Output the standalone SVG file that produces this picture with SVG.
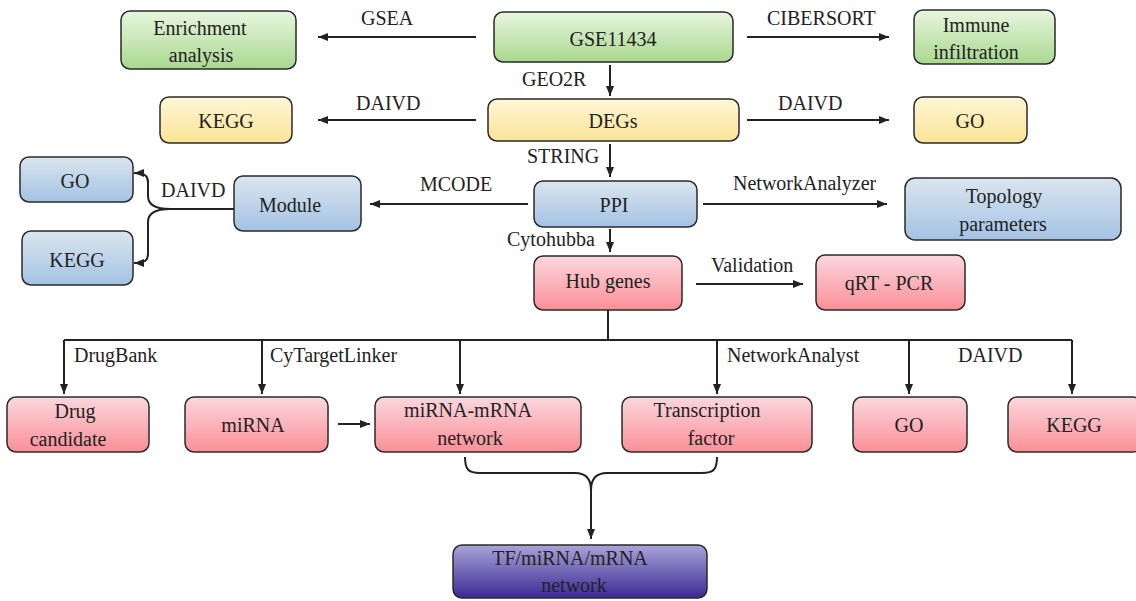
<svg xmlns="http://www.w3.org/2000/svg" width="1136" height="601" viewBox="0 0 1136 601">
<defs>
<linearGradient id="gGreen" x1="0" y1="0" x2="0" y2="1"><stop offset="0" stop-color="#e8f6df"/><stop offset="1" stop-color="#a9d88f"/></linearGradient>
<linearGradient id="gYellow" x1="0" y1="0" x2="0" y2="1"><stop offset="0" stop-color="#fff7d6"/><stop offset="1" stop-color="#fbe497"/></linearGradient>
<linearGradient id="gBlue" x1="0" y1="0" x2="0" y2="1"><stop offset="0" stop-color="#dbe5ee"/><stop offset="1" stop-color="#a3c3e4"/></linearGradient>
<linearGradient id="gPink" x1="0" y1="0" x2="0" y2="1"><stop offset="0" stop-color="#fbd7de"/><stop offset="1" stop-color="#fb8f97"/></linearGradient>
<linearGradient id="gPurple" x1="0" y1="0" x2="0" y2="1"><stop offset="0" stop-color="#aaa4d8"/><stop offset="1" stop-color="#3a2993"/></linearGradient>
<marker id="ah" viewBox="0 0 10 10" refX="10" refY="5" markerWidth="5" markerHeight="5" orient="auto" markerUnits="strokeWidth">
<path d="M0,1 L10,5 L0,9 z" fill="#222"/>
</marker>
</defs>
<style>
.box{stroke:#2a2a2a;stroke-width:1.5}
.t{font-size:20px;fill:#222;text-anchor:middle}
.l{font-size:20px;fill:#222}
.c{fill:none;stroke:#222;stroke-width:2}
.ca{fill:none;stroke:#222;stroke-width:2;marker-end:url(#ah)}
</style>
<rect width="1136" height="601" fill="#fff"/>
<g font-family="Liberation Serif, DejaVu Serif, serif">
<g id="connectors">
<line class="ca" x1="476" y1="37" x2="318" y2="37"/>
<line class="ca" x1="747" y1="37" x2="889" y2="37"/>
<line class="ca" x1="610" y1="65" x2="610" y2="96"/>
<line class="ca" x1="476" y1="120" x2="318" y2="120"/>
<line class="ca" x1="747" y1="120" x2="889" y2="120"/>
<line class="ca" x1="610" y1="144" x2="610" y2="177"/>
<line class="ca" x1="528" y1="204" x2="370" y2="204"/>
<line class="ca" x1="703" y1="204" x2="887" y2="204"/>
<line class="ca" x1="610" y1="229" x2="610" y2="252"/>
<line class="ca" x1="696" y1="284" x2="803" y2="284"/>
<path class="c" d="M234,209 L170,209"/>
<path class="ca" d="M170,209 C155,209 148,205 148,196 L148,182 C148,176 145,173 134,173"/>
<path class="ca" d="M170,209 C155,209 148,213 148,222 L148,254 C148,260 145,263 134,263"/>
<path class="c" d="M608,310 L608,340 M64,340 L1072,340"/>
<line class="ca" x1="64" y1="340" x2="64" y2="394"/>
<line class="ca" x1="262" y1="340" x2="262" y2="394"/>
<line class="ca" x1="460" y1="340" x2="460" y2="394"/>
<line class="ca" x1="717" y1="340" x2="717" y2="394"/>
<line class="ca" x1="909" y1="340" x2="909" y2="394"/>
<line class="ca" x1="1072" y1="340" x2="1072" y2="394"/>
<line class="ca" x1="338" y1="424" x2="370" y2="424"/>
<path class="c" d="M465,457 C465,469 468,473 480,473 L575,473 C586,473 591,479 591,490"/>
<path class="c" d="M717,457 C717,469 714,473 702,473 L607,473 C596,473 591,479 591,490"/>
<line class="ca" x1="591" y1="489" x2="591" y2="539"/>
<text class="l" x="361" y="25">GSEA</text>
<text class="l" x="767" y="25">CIBERSORT</text>
<text class="l" x="522" y="86">GEO2R</text>
<text class="l" x="356" y="110">DAIVD</text>
<text class="l" x="778" y="110">DAIVD</text>
<text class="l" x="527" y="163">STRING</text>
<text class="l" x="420" y="191">MCODE</text>
<text class="l" x="733" y="190">NetworkAnalyzer</text>
<text class="l" x="161" y="197">DAIVD</text>
<text class="l" x="507" y="246">Cytohubba</text>
<text class="l" x="711" y="272">Validation</text>
<text class="l" x="74" y="362">DrugBank</text>
<text class="l" x="270" y="362">CyTargetLinker</text>
<text class="l" x="727" y="362">NetworkAnalyst</text>
<text class="l" x="958" y="362">DAIVD</text>
</g>

<g id="enrichment"><rect class="box" x="121" y="11" width="175" height="58" rx="9" fill="url(#gGreen)"/><text class="t" x="200" y="35">Enrichment</text><text class="t" x="201" y="62">analysis</text></g>
<g id="gse"><rect class="box" x="494" y="12" width="239" height="50" rx="9" fill="url(#gGreen)"/><text class="t" x="613" y="46">GSE11434</text></g>
<g id="immune"><rect class="box" x="914" y="10" width="141" height="54" rx="9" fill="url(#gGreen)"/><text class="t" x="976" y="32">Immune</text><text class="t" x="976" y="59">infiltration</text></g>

<g id="kegg1"><rect class="box" x="160" y="97" width="132" height="46" rx="9" fill="url(#gYellow)"/><text class="t" x="226" y="128">KEGG</text></g>
<g id="degs"><rect class="box" x="488" y="99" width="251" height="42" rx="9" fill="url(#gYellow)"/><text class="t" x="613" y="128">DEGs</text></g>
<g id="go1"><rect class="box" x="914" y="97" width="113" height="46" rx="9" fill="url(#gYellow)"/><text class="t" x="970" y="128">GO</text></g>

<g id="go2"><rect class="box" x="20" y="157" width="113" height="45" rx="9" fill="url(#gBlue)"/><text class="t" x="75" y="188">GO</text></g>
<g id="kegg2"><rect class="box" x="22" y="231" width="111" height="54" rx="9" fill="url(#gBlue)"/><text class="t" x="77" y="267">KEGG</text></g>
<g id="module"><rect class="box" x="234" y="176" width="127" height="55" rx="9" fill="url(#gBlue)"/><text class="t" x="290" y="212">Module</text></g>
<g id="ppi"><rect class="box" x="534" y="181" width="163" height="46" rx="9" fill="url(#gBlue)"/><text class="t" x="614" y="212">PPI</text></g>
<g id="topology"><rect class="box" x="905" y="178" width="216" height="62" rx="10" fill="url(#gBlue)"/><text class="t" x="1004" y="203">Topology</text><text class="t" x="1003" y="231">parameters</text></g>

<g id="hub"><rect class="box" x="534" y="256" width="148" height="54" rx="9" fill="url(#gPink)"/><text class="t" x="608" y="288">Hub genes</text></g>
<g id="qrt"><rect class="box" x="816" y="255" width="149" height="55" rx="9" fill="url(#gPink)"/><text class="t" x="889" y="290">qRT - PCR</text></g>

<g id="drug"><rect class="box" x="7" y="397" width="142" height="55" rx="9" fill="url(#gPink)"/><text class="t" x="75" y="418">Drug</text><text class="t" x="68" y="446">candidate</text></g>
<g id="mirna"><rect class="box" x="185" y="397" width="143" height="55" rx="9" fill="url(#gPink)"/><text class="t" x="253" y="432">miRNA</text></g>
<g id="mirnamrna"><rect class="box" x="375" y="397" width="206" height="55" rx="9" fill="url(#gPink)"/><text class="t" x="468" y="417">miRNA-mRNA</text><text class="t" x="470" y="445">network</text></g>
<g id="tf"><rect class="box" x="622" y="397" width="190" height="55" rx="9" fill="url(#gPink)"/><text class="t" x="707" y="417">Transcription</text><text class="t" x="711" y="445">factor</text></g>
<g id="go3"><rect class="box" x="853" y="397" width="114" height="55" rx="9" fill="url(#gPink)"/><text class="t" x="909" y="432">GO</text></g>
<g id="kegg3"><rect class="box" x="1008" y="397" width="134" height="55" rx="9" fill="url(#gPink)"/><text class="t" x="1074" y="432">KEGG</text></g>

<g id="tfnet"><rect class="box" x="453" y="545" width="254" height="53" rx="9" fill="url(#gPurple)"/><text class="t" x="570" y="565">TF/miRNA/mRNA</text><text class="t" x="574" y="592">network</text></g>
</g>
</svg>
